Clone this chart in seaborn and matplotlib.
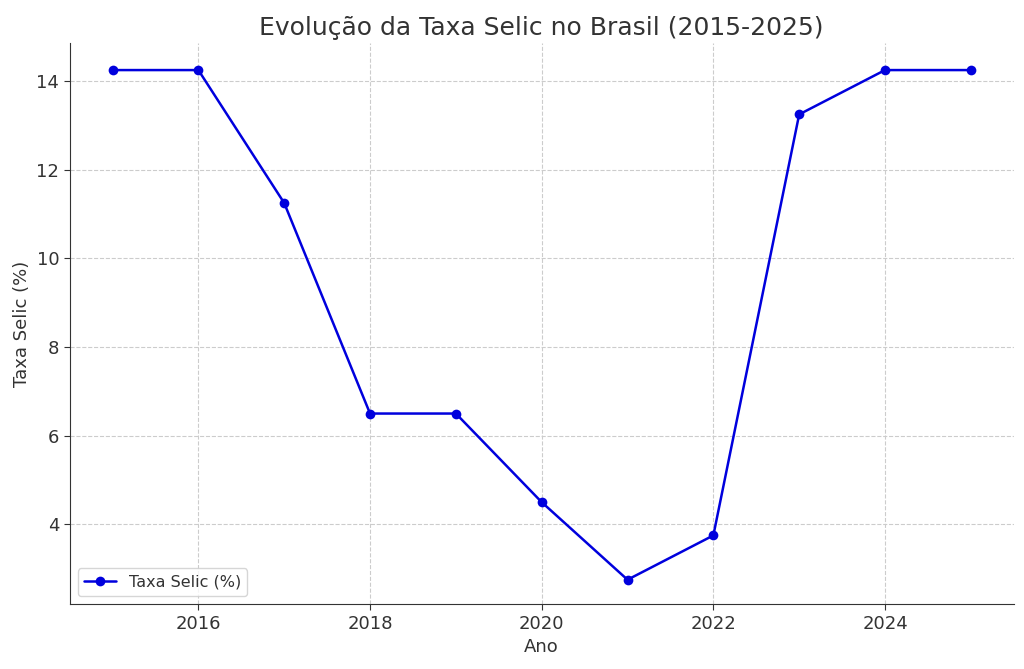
import matplotlib
matplotlib.use("Agg")
import matplotlib.pyplot as plt
import pandas as pd
import seaborn as sns

anos = [2015, 2016, 2017, 2018, 2019, 2020, 2021, 2022, 2023, 2024, 2025]
selic = [14.25, 14.25, 11.25, 6.5, 6.5, 4.5, 2.75, 3.75, 13.25, 14.25, 14.25]

sns.set_style("whitegrid", {"grid.linestyle": "--", "grid.color": "#cccccc",
                            "xtick.bottom": True, "ytick.left": True})
plt.rcParams["font.family"] = ["DejaVu Sans"]
plt.rcParams["text.color"] = "#333333"
plt.rcParams["axes.labelcolor"] = "#333333"
plt.rcParams["xtick.color"] = "#333333"
plt.rcParams["ytick.color"] = "#333333"

df = pd.DataFrame({"Ano": anos, "Selic": selic})

fig, ax = plt.subplots(figsize=(10.24, 6.69), dpi=100)
sns.lineplot(data=df, x="Ano", y="Selic", marker="o", color="#0000dd", linewidth=1.8,
             markersize=7, markeredgewidth=0, label="Taxa Selic (%)", ax=ax)

ax.set_title("Evolução da Taxa Selic no Brasil (2015-2025)", fontsize=18)
ax.set_xlabel("Ano", fontsize=13)
ax.set_ylabel("Taxa Selic (%)", fontsize=13)
ax.tick_params(labelsize=13, length=4)
ax.set_xticks([2016, 2018, 2020, 2022, 2024])
ax.set_yticks([4, 6, 8, 10, 12, 14])
ax.set_xlim(2014.5, 2025.5)
ax.set_ylim(2.2, 14.85)
for s in ["top", "right"]:
    ax.spines[s].set_visible(False)
for s in ["left", "bottom"]:
    ax.spines[s].set_color("#333333")
ax.legend(loc="lower left", fontsize=11.5)

fig.subplots_adjust(left=0.068, right=0.99, top=0.935, bottom=0.097)
fig.savefig("out.png", dpi=100)
